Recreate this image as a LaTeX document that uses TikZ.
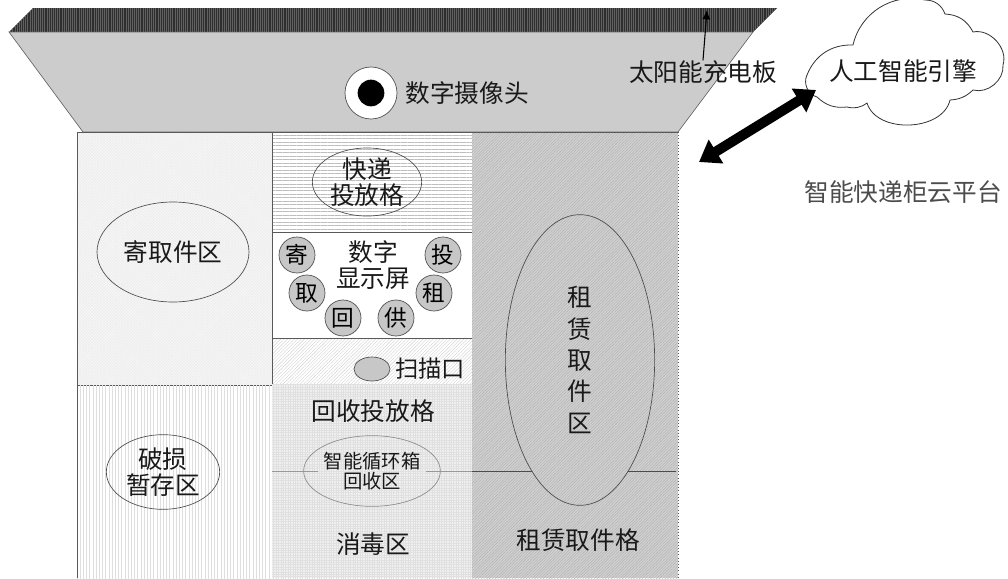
\documentclass[tikz,border=0pt]{standalone}
\usepackage{tikz}
\usepackage{fontspec}
\setmainfont{Noto Sans CJK SC}
\usetikzlibrary{shapes,arrows.meta,patterns.meta,positioning,calc}

\tikzset{
  txt/.style={font=\fontsize{18.5}{19}\selectfont, align=center, inner sep=0pt, text=black!90},
  txtsmall/.style={font=\fontsize{14.5}{14.5}\selectfont, align=center, inner sep=0pt, text=black!90},
  area/.style={draw=black!65, line width=0.6pt},
  oval/.style={ellipse, draw=black!70, line width=0.5pt, inner sep=0pt, align=center},
  keycircle/.style={circle, draw=black!70, fill=black!22, line width=0.5pt, minimum size=27pt, inner sep=0pt, font=\fontsize{17}{17}\selectfont},
  fillpale/.style={preaction={fill=black!3}, pattern={Hatch[angle=45,distance=1.6pt,line width=0.25pt]}, pattern color=black!8},
  fillhoriz/.style={pattern={Lines[angle=0,distance=2.6pt,line width=0.35pt]}, pattern color=black!26},
  fillvert/.style={pattern={Lines[angle=90,distance=2.4pt,line width=0.3pt]}, pattern color=black!13},
  fillslant/.style={pattern={Lines[angle=45,distance=1.8pt,line width=0.3pt]}, pattern color=black!18},
  fillmesh/.style={preaction={fill=black!6}, pattern={Hatch[angle=0,distance=1.8pt,line width=0.3pt]}, pattern color=black!12},
  fillrough/.style={preaction={fill=black!18}, pattern={Lines[angle=45,distance=1.5pt,line width=0.35pt]}, pattern color=black!30},
}

\begin{document}
\begin{tikzpicture}[x=0.75pt,y=-0.75pt]
\useasboundingbox (0,0) rectangle (1008,579);

% top of the cabinet
\fill[black!82] (33,8) -- (777,8) -- (753,32) -- (9,32) -- cycle;
\fill[pattern={Lines[angle=90,distance=1.6pt,line width=0.5pt]}, pattern color=black!62] (33,8) -- (777,8) -- (753,32) -- (9,32) -- cycle;
\draw[draw=black!60, fill=black!20, line width=0.5pt] (9,32) -- (753,32) -- (678,132) -- (83,132) -- cycle;

% areas
\fill[fillpale] (77,132) rectangle (272,385);
\draw[area] (77,385) -- (77,132) -- (272,132);
\draw[area] (77,385) -- (272,385);
\fill[fillvert] (77,385) rectangle (272,578);
\draw[area] (77,578) -- (77,385);
\draw[area, fillhoriz] (272,132) rectangle (472,232);
\draw[area, fill=white] (272,232) rectangle (472,338);
\fill[fillslant] (272,338) rectangle (472,384);
\draw[area] (272,384) -- (272,338) -- (472,338) -- (472,384);
\fill[fillmesh] (272,384) rectangle (472,578);
\fill[fillrough] (472,132) rectangle (678,578);
\draw[area] (472,132) -- (678,132);
\draw[draw=black!65, dotted, line width=0.4pt] (678,132) -- (678,578);
\draw[black!40, line width=0.6pt] (272,471) -- (472,471);
\draw[black!70, line width=0.6pt] (472,471) -- (676,471);

% camera
\node[circle, draw=black!70, fill=white, line width=0.5pt, minimum size=39pt, inner sep=0pt] (camera) at (371,93) {};
\node[circle, fill=black, minimum size=20pt, inner sep=0pt] (lens) at (371,93) {};
\node[txt, right=6pt of camera] (cameralabel) {数字摄像头};

% left column
\fill[fillpale] (173,252) ellipse [x radius=76,y radius=50];
\node[oval, minimum width=114pt, minimum height=75pt, txt] (jiqu) at (173,252) {寄取件区};
\fill[white] (163,472) ellipse [x radius=57,y radius=37];
\fill[fillvert] (163,472) ellipse [x radius=57,y radius=37];
\node[oval, minimum width=85pt, minimum height=56pt, txt] (posun) at (163,472) {破损\\暂存区};

% middle column
\fill[white] (367,182) ellipse [x radius=55,y radius=27];
\fill[fillhoriz] (367,182) ellipse [x radius=55,y radius=27];
\node[oval, minimum width=82pt, minimum height=41pt, txt] (kuaidi) at (367,182) {快递\\投放格};
\node[txt] (screen) at (373,265) {数字\\显示屏};
\node[keycircle] (ji) at (297,255) {寄};
\node[keycircle] (tou) at (443,255) {投};
\node[keycircle] (qu) at (307,293) {取};
\node[keycircle] (zu) at (434,293) {租};
\node[keycircle] (hui) at (343,318) {回};
\node[keycircle] (gong) at (396,318) {供};
\node[ellipse, draw=black!70, fill=black!22, line width=0.5pt, minimum width=27pt, minimum height=18pt, inner sep=0pt] (scan) at (372,369) {};
\node[txt, font=\fontsize{17.5}{18}\selectfont] (scanlabel) at (430,369) {扫描口};
\node[txt] (huishou) at (373,411) {回收投放格};
\fill[fillmesh] (372,471) ellipse [x radius=54,y radius=35];
\node[oval, draw=black!45, minimum width=81pt, minimum height=53pt, txtsmall] (xunhuan) at (372,471) {智能循环箱\\回收区};
\node[txt] (xiaodu) at (373,544) {消毒区};

% right column
\fill[fillrough] (580,360) ellipse [x radius=75,y radius=145];
\node[oval, minimum width=112pt, minimum height=218pt, txt, font=\fontsize{18.5}{23.5}\selectfont] (zuqu) at (580,360) {租\\赁\\取\\件\\区};
\node[txt] (zuge) at (578,540) {租赁取件格};

% solar panel label
\node[txt] (solar) at (703,72) {太阳能充电板};
\coordinate (solartip) at (707,10);
\draw[-{Latex[length=7pt,width=6pt]}, line width=0.8pt] (solar.north) -- (solartip);

% cloud
\draw[draw=black!80, fill=white, line width=0.6pt] (817,97) to[bend left=50] (807,75)
  to[bend left=35] (853,45) to[bend left=45] (925,0) to[bend left=35] (945,14)
  to[bend left=30] (973,32) to[bend left=60] (1003,65) to[bend left=55] (973,90)
  to[bend left=20] (950,100) to[bend left=75] (867,103) to[bend left=25] (847,107)
  to[bend left=25] (817,97);
\node[txt] (engine) at (903,71) {人工智能引擎};
\node[txt, text=black!70] (platform) at (903,192) {智能快递柜云平台};

% link cloud and cabinet
\coordinate (linka) at (816,90);
\coordinate (linkb) at (699,162);
\draw[{Triangle[length=15pt,width=20pt]}-{Triangle[length=15pt,width=20pt]}, line width=7.5pt] (linkb) -- (linka);
\end{tikzpicture}
\end{document}
